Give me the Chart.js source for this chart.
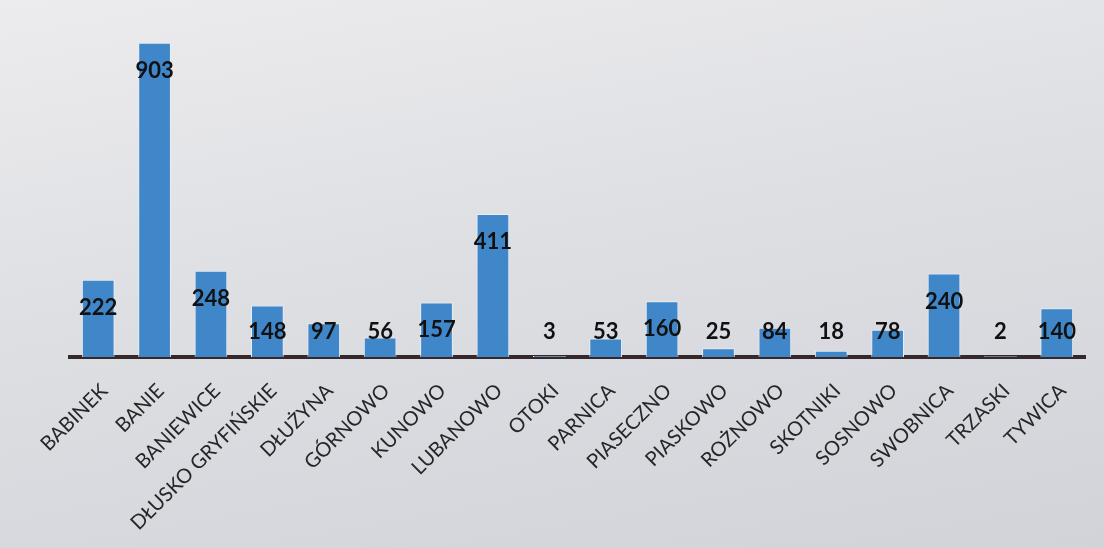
<!DOCTYPE html>
<html>
<head>
<meta charset="utf-8">
<script src="https://cdn.jsdelivr.net/npm/chart.js@4.4.0/dist/chart.umd.min.js"></script>
<style>
  html, body { margin: 0; padding: 0; }
  body {
    width: 1104px; height: 548px; overflow: hidden;
    background: linear-gradient(170deg, #ececee 0%, #dedfe3 45%, #d2d3d9 100%);
  }
  #wrap { position: relative; width: 1104px; height: 548px; }
</style>
</head>
<body>
<div id="wrap"><canvas id="barChart" width="1104" height="548"></canvas></div>
<script>
// villages (sołectwa) and their counts
const villages = ['BABINEK', 'BANIE', 'BANIEWICE', 'DŁUSKO GRYFIŃSKIE', 'DŁUŻYNA', 'GÓRNOWO',
  'KUNOWO', 'LUBANOWO', 'OTOKI', 'PARNICA', 'PIASECZNO', 'PIASKOWO', 'ROŻNOWO', 'SKOTNIKI',
  'SOSNOWO', 'SWOBNICA', 'TRZASKI', 'TYWICA'];
const counts = [222, 903, 248, 148, 97, 56, 157, 411, 3, 53, 160, 25, 84, 18, 78, 240, 2, 140];

// draws value above short bars, inside the top of tall ones
const valueLabels = {
  id: 'valueLabels',
  afterDatasetsDraw(chart) {
    const ctx = chart.ctx;
    const meta = chart.getDatasetMeta(0);
    const base = chart.scales.y.getPixelForValue(0);
    ctx.save();
    ctx.font = 'bold 22px Lato';
    ctx.fillStyle = '#111';
    ctx.textAlign = 'center';
    ctx.textBaseline = 'middle';
    meta.data.forEach((bar, i) => {
      let y = Math.min(bar.y + 28, base - 25);
      ctx.fillText(counts[i], bar.x, y);
    });
    ctx.restore();
  }
};

let chartformat = {};
chartformat.type = 'bar';
chartformat.data = {
  labels: villages,
  datasets: [{
    data: counts,
    backgroundColor: '#3f87c9',
    borderColor: '#e8eef6',
    borderWidth: 1,
    categoryPercentage: 1,
    barPercentage: 0.58
  }]
};

let options = chartformat.options = {};
options.responsive = false;
options.animation = false;
options.layout = { padding: { left: 70, right: 19, top: 23, bottom: 0 } };
options.plugins = { legend: { display: false }, tooltip: { enabled: false } };
options.scales = {
  x: {
    grid: { display: false, drawTicks: false },
    border: { display: true, color: '#35282a', width: 4 },
    ticks: {
      autoSkip: false,
      maxRotation: 45,
      minRotation: 45,
      padding: 22,
      labelOffset: 6,
      color: '#262626',
      font: { family: 'Lato', size: 20 }
    },
    afterFit(scale) { scale.height = 548 - 357; }
  },
  y: {
    display: false,
    min: 0,
    max: 960
  }
};
chartformat.plugins = [valueLabels];

new Chart(document.getElementById('barChart'), chartformat);
</script>
</body>
</html>
